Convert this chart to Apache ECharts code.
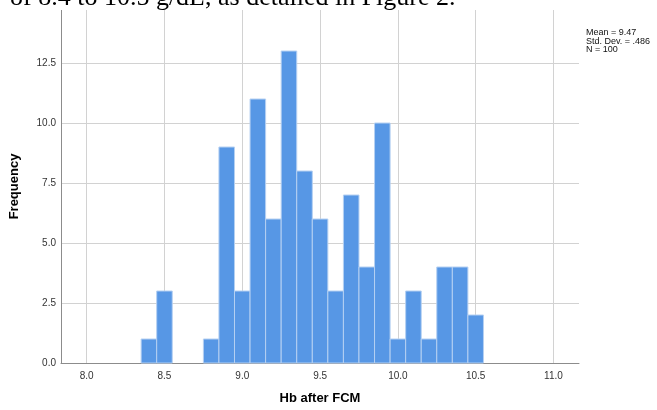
<!DOCTYPE html>
<html>
<head>
<meta charset="utf-8">
<script src="https://cdn.jsdelivr.net/npm/echarts@6/dist/echarts.min.js"></script>
<style>
html,body{margin:0;padding:0;background:#fff;}
#chart{width:657px;height:410px;}
</style>
</head>
<body>
<div id="chart"></div>
<script>
var binCenters = [8.4, 8.5, 8.6, 8.7, 8.8, 8.9, 9.0, 9.1, 9.2, 9.3, 9.4, 9.5, 9.6, 9.7, 9.8, 9.9, 10.0, 10.1, 10.2, 10.3, 10.4, 10.5];
var counts     = [1,   3,   0,   0,   1,   9,   3,   11,  6,   13,  8,   6,   3,   7,   4,   10,  1,    3,    1,    4,    4,    2];
var binWidth = 0.1;
var xTicks = [8.0, 8.5, 9.0, 9.5, 10.0, 10.5, 11.0];
var yTicks = [0, 2.5, 5.0, 7.5, 10.0, 12.5];
var statsLines = ['Mean = 9.47', 'Std. Dev. = .486', 'N = 100'];
var xTitle = 'Hb after FCM';
var yTitle = 'Frequency';
var captionText = 'of 8.4 to 10.5 g/dL, as detailed in Figure 2.';

var histData = binCenters.map(function (c, i) {
  return [c - binWidth / 2, c + binWidth / 2, counts[i]];
});

var chart = echarts.init(document.getElementById('chart'), null, {renderer: 'canvas'});
chart.setOption({
  animation: false,
  backgroundColor: '#ffffff',
  grid: {left: 60, right: 78, top: 10, bottom: 43, containLabel: false},
  xAxis: {
    type: 'value',
    min: 7.835,
    max: 11.164,
    name: xTitle,
    nameLocation: 'middle',
    nameGap: 29,
    nameTextStyle: {fontFamily: 'Liberation Sans', fontSize: 13, fontWeight: 'bold', color: '#000'},
    axisLine: {show: true, onZero: false, lineStyle: {color: '#8c8c8c', width: 1}},
    axisTick: {show: false, customValues: xTicks},
    axisLabel: {
      customValues: xTicks,
      fontFamily: 'Liberation Sans', fontSize: 10, color: '#333', margin: 8,
      formatter: function (v) { return v.toFixed(1); }
    },
    splitLine: {show: true, lineStyle: {color: '#d2d2d2', width: 1}}
  },
  yAxis: {
    type: 'value',
    min: 0,
    max: 14.71,
    name: yTitle,
    nameLocation: 'middle',
    nameGap: 40,
    nameTextStyle: {fontFamily: 'Liberation Sans', fontSize: 13, fontWeight: 'bold', color: '#000'},
    axisLine: {show: true, lineStyle: {color: '#8c8c8c', width: 1}},
    axisTick: {show: false, customValues: yTicks},
    axisLabel: {
      customValues: yTicks,
      fontFamily: 'Liberation Sans', fontSize: 10, color: '#333', margin: 5,
      padding: [4, 0, 0, 0],
      formatter: function (v) { return v.toFixed(1); }
    },
    splitLine: {show: true, lineStyle: {color: '#d2d2d2', width: 1}}
  },
  graphic: [
    {
      type: 'text', left: 586, top: 28, z: 100,
      style: {
        text: statsLines.join('\n'),
        font: '9px "Liberation Sans"', fill: '#111', lineHeight: 8.7
      }
    },
    {
      type: 'rect', left: 0, top: 0, z: 90,
      shape: {width: 657, height: 10},
      style: {fill: '#ffffff'}
    },
    {
      type: 'text', left: 10, top: -15, z: 100,
      style: {
        text: captionText,
        font: '26px "Liberation Serif"', fill: '#000'
      }
    }
  ],
  series: [{
    type: 'custom',
    data: histData,
    encode: {x: [0, 1], y: 2},
    renderItem: function (params, api) {
      if (!api.value(2)) { return null; }
      var p0 = api.coord([api.value(0), api.value(2)]);
      var p1 = api.coord([api.value(1), 0]);
      return {
        type: 'rect',
        shape: {x: p0[0], y: p0[1], width: p1[0] - p0[0], height: p1[1] - p0[1]},
        style: {fill: '#5797e5', stroke: '#b5d0f2', lineWidth: 1}
      };
    }
  }]
});
</script>
</body>
</html>
